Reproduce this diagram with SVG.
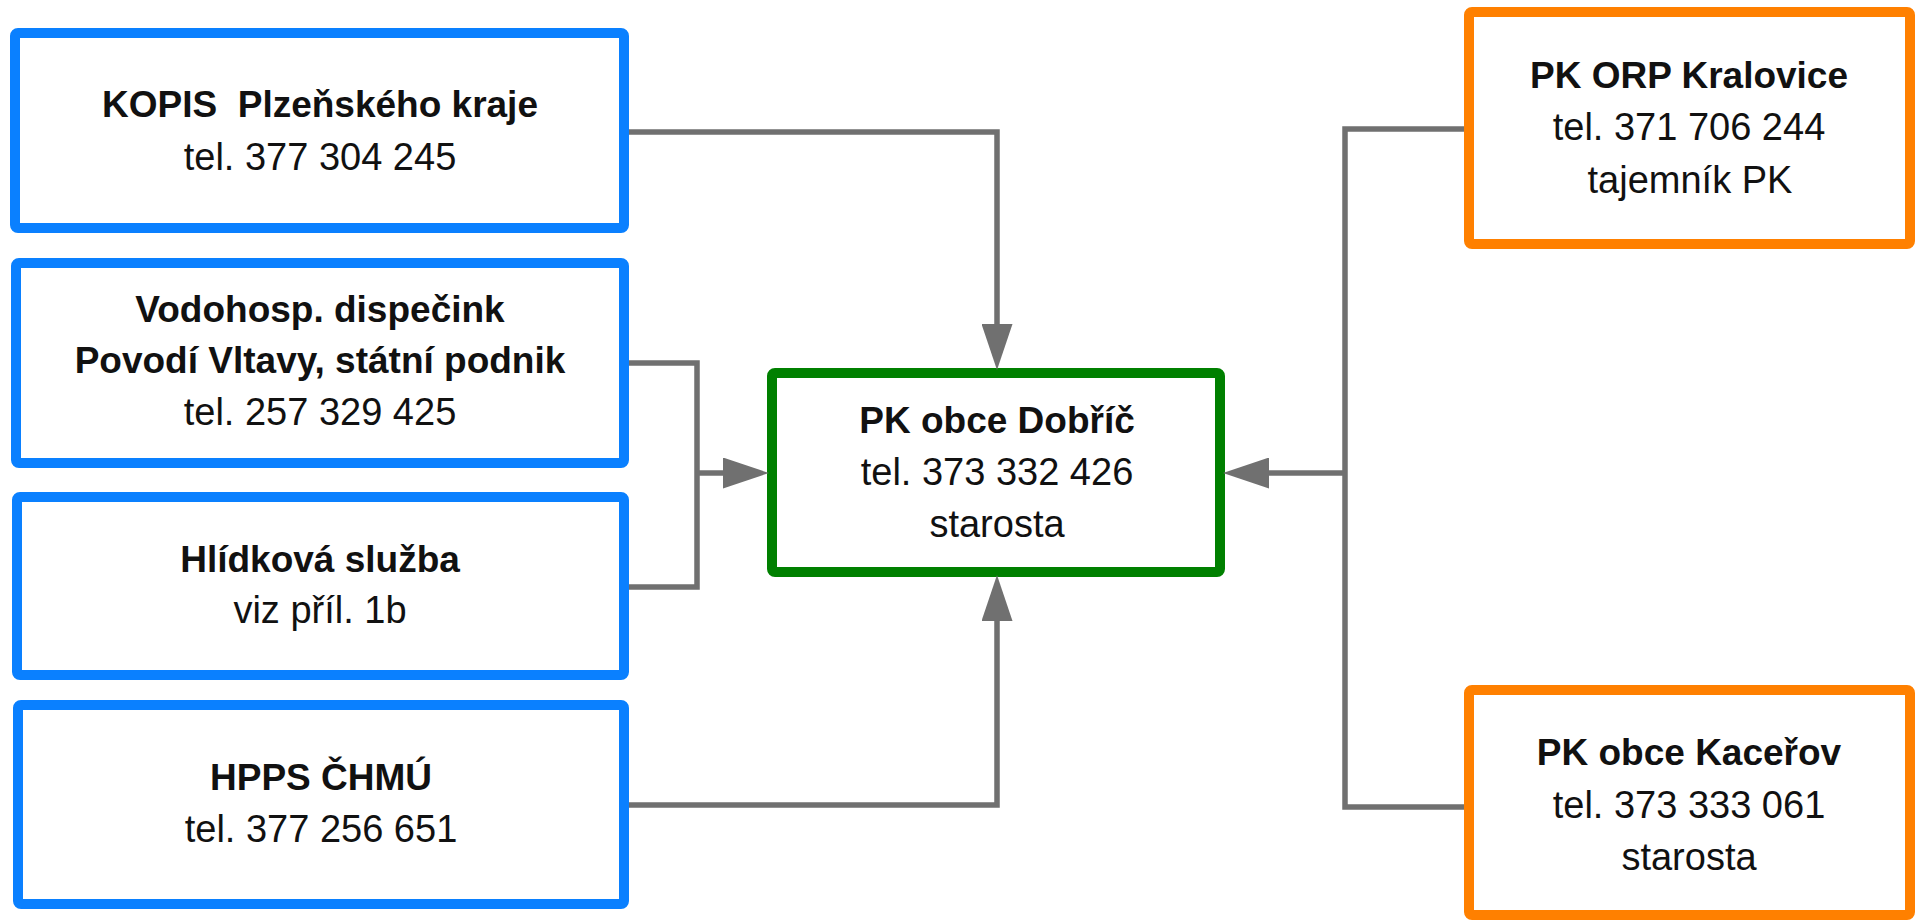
<svg xmlns="http://www.w3.org/2000/svg" width="1916" height="921" viewBox="0 0 1916 921">
<style>
.box{fill:#fff;stroke-width:10;}
.blue{stroke:#0A80FF;}
.orange{stroke:#FF8000;}
.green{stroke:#008000;}
text{font-family:"Liberation Sans",Arial,sans-serif;text-anchor:middle;fill:#111;white-space:pre;}
.b{font-weight:bold;font-size:37px;}
.r{font-size:38px;}
.conn{fill:none;stroke:#707070;stroke-width:5.5;}
</style>
<defs>
<marker id="arr" viewBox="0 0 46 31" refX="26" refY="15.5" markerWidth="46" markerHeight="31" markerUnits="userSpaceOnUse" orient="auto">
<path d="M0,0 L46,15.5 L0,31 Z" fill="#707070"/>
</marker>
</defs>
<rect width="1916" height="921" fill="#fff"/>
<g id="kopis">
<rect class="box blue" x="15" y="33" width="609" height="195" rx="3"/>
<text class="b" x="320" y="117" xml:space="preserve">KOPIS  Plzeňského kraje</text>
<text class="r" x="320" y="170">tel. 377 304 245</text>
</g>
<g id="vodohosp">
<rect class="box blue" x="16" y="263" width="608" height="200" rx="3"/>
<text class="b" x="320" y="322">Vodohosp. dispečink</text>
<text class="b" x="320" y="373">Povodí Vltavy, státní podnik</text>
<text class="r" x="320" y="425">tel. 257 329 425</text>
</g>
<g id="hlidkova">
<rect class="box blue" x="17" y="497" width="607" height="178" rx="3"/>
<text class="b" x="320" y="572">Hlídková služba</text>
<text class="r" x="320" y="623">viz příl. 1b</text>
</g>
<g id="hpps">
<rect class="box blue" x="18" y="705" width="606" height="199" rx="3"/>
<text class="b" x="321" y="790">HPPS ČHMÚ</text>
<text class="r" x="321" y="842">tel. 377 256 651</text>
</g>
<g id="dobric">
<rect class="box green" x="772" y="373" width="448" height="199" rx="3"/>
<text class="b" x="997" y="433">PK obce Dobříč</text>
<text class="r" x="997" y="485">tel. 373 332 426</text>
<text class="r" x="997" y="537">starosta</text>
</g>
<g id="kralovice">
<rect class="box orange" x="1469" y="12" width="441" height="232" rx="3"/>
<text class="b" x="1689" y="88">PK ORP Kralovice</text>
<text class="r" x="1689" y="140">tel. 371 706 244</text>
<text class="r" x="1690" y="193">tajemník PK</text>
</g>
<g id="kacerov">
<rect class="box orange" x="1469" y="690" width="441" height="225" rx="3"/>
<text class="b" x="1689" y="765">PK obce Kaceřov</text>
<text class="r" x="1689" y="818">tel. 373 333 061</text>
<text class="r" x="1689" y="870">starosta</text>
</g>
<g id="connectors">
<path class="conn" d="M629,132 H997 V350" marker-end="url(#arr)"/>
<path class="conn" d="M629,363 H697 V587 H629"/>
<path class="conn" d="M697,473 H749" marker-end="url(#arr)"/>
<path class="conn" d="M629,805 H997 V595" marker-end="url(#arr)"/>
<path class="conn" d="M1464,129 H1345 V807 H1464"/>
<path class="conn" d="M1345,473 H1243" marker-end="url(#arr)"/>
</g>
</svg>
